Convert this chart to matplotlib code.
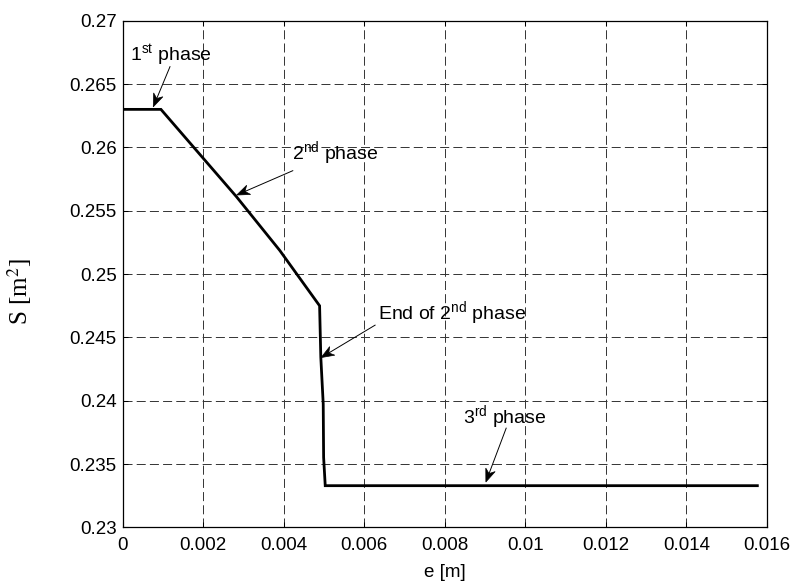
import matplotlib
matplotlib.use("Agg")
import matplotlib.pyplot as plt
import numpy as np
from matplotlib.patches import Polygon

plt.rcParams['font.family'] = ['Liberation Sans', 'DejaVu Sans']
plt.rcParams['mathtext.fontset'] = 'custom'
plt.rcParams['mathtext.rm'] = 'Liberation Sans'
plt.rcParams['mathtext.it'] = 'Liberation Sans:italic'
plt.rcParams['lines.scale_dashes'] = False

# Data
e_m = [0.0, 0.00095, 0.00283, 0.0039, 0.00489, 0.00492, 0.00498, 0.00499, 0.00503, 0.01576]
S_m2 = [0.263, 0.263, 0.25609, 0.25187, 0.2475, 0.24344, 0.23976, 0.23553, 0.2333, 0.2333]

x_ticks = [0, 0.002, 0.004, 0.006, 0.008, 0.010, 0.012, 0.014, 0.016]
x_tick_labels = ['0', '0.002', '0.004', '0.006', '0.008', '0.01', '0.012', '0.014', '0.016']
y_ticks = [0.23, 0.235, 0.24, 0.245, 0.25, 0.255, 0.26, 0.265, 0.27]
y_tick_labels = ['0.23', '0.235', '0.24', '0.245', '0.25', '0.255', '0.26', '0.265', '0.27']

# annotations: (label, text position, arrow tail, arrow tip)
ann_labels = ['1$^{\\mathrm{st}}$ phase', '2$^{\\mathrm{nd}}$ phase',
              'End of 2$^{\\mathrm{nd}}$ phase', '3$^{\\mathrm{rd}}$ phase']
ann_text_xy = [(0.00018, 0.26729), (0.0042, 0.25952), (0.00635, 0.24689), (0.00846, 0.23872)]
ann_tail_xy = [(0.001175, 0.26637), (0.004224, 0.25816), (0.006268, 0.24597), (0.009523, 0.23784)]
ann_tip_xy = [(0.00076, 0.2632), (0.002832, 0.25624), (0.004927, 0.24341), (0.009019, 0.23359)]

fig = plt.figure(figsize=(7.95, 5.81), dpi=100)
ax = fig.add_axes([0.1543, 0.0921, 0.8105, 0.8723])

ax.plot(e_m, S_m2, color='black', lw=2.0, solid_joinstyle='miter', zorder=3)

ax.set_xlim(0, 0.016)
ax.set_ylim(0.23, 0.27)
ax.set_xticks(x_ticks)
ax.set_xticklabels(x_tick_labels)
ax.set_yticks(y_ticks)
ax.set_yticklabels(y_tick_labels)

ax.tick_params(direction='in', length=3.6, width=0.75, top=True, right=True,
               labelsize=13.5, colors='black')
ax.tick_params(axis='x', pad=7)
ax.tick_params(axis='y', pad=4.3)
for sp in ax.spines.values():
    sp.set_linewidth(0.9)
    sp.set_color('black')

ax.grid(True, color='#333333', lw=0.7, linestyle=(0, (6.5, 3.0)))
ax.set_axisbelow(True)

ax.set_xlabel('e [m]', fontsize=13.5)
ax.xaxis.set_label_coords(0.5, -0.073)
ax.set_ylabel('S [m$^2$]', fontsize=18, family=['Liberation Serif', 'DejaVu Serif'],
              math_fontfamily='stix')
ax.yaxis.set_label_coords(-0.138, 0.465)

# MATLAB-style notched arrowheads, built in display space
head_len, head_half, notch = 13.0, 5.0, 4.0
for lab, txy, tail, tip in zip(ann_labels, ann_text_xy, ann_tail_xy, ann_tip_xy):
    ax.text(txy[0], txy[1], lab, fontsize=14, ha='left', va='center', zorder=5)
    p_tail = ax.transData.transform(tail)
    p_tip = ax.transData.transform(tip)
    d = p_tip - p_tail
    u = d / np.hypot(*d)
    n = np.array([-u[1], u[0]])
    back = p_tip - (head_len - notch) * u
    ax.plot([p_tail[0], back[0]], [p_tail[1], back[1]], color='black', lw=0.7,
            transform=None, zorder=5)
    poly = np.array([p_tip,
                     p_tip - head_len * u + head_half * n,
                     back,
                     p_tip - head_len * u - head_half * n])
    ax.add_patch(Polygon(poly, closed=True, facecolor='black', edgecolor='black',
                         lw=0.5, transform=None, zorder=6))

fig.savefig('out.png', dpi=100)
